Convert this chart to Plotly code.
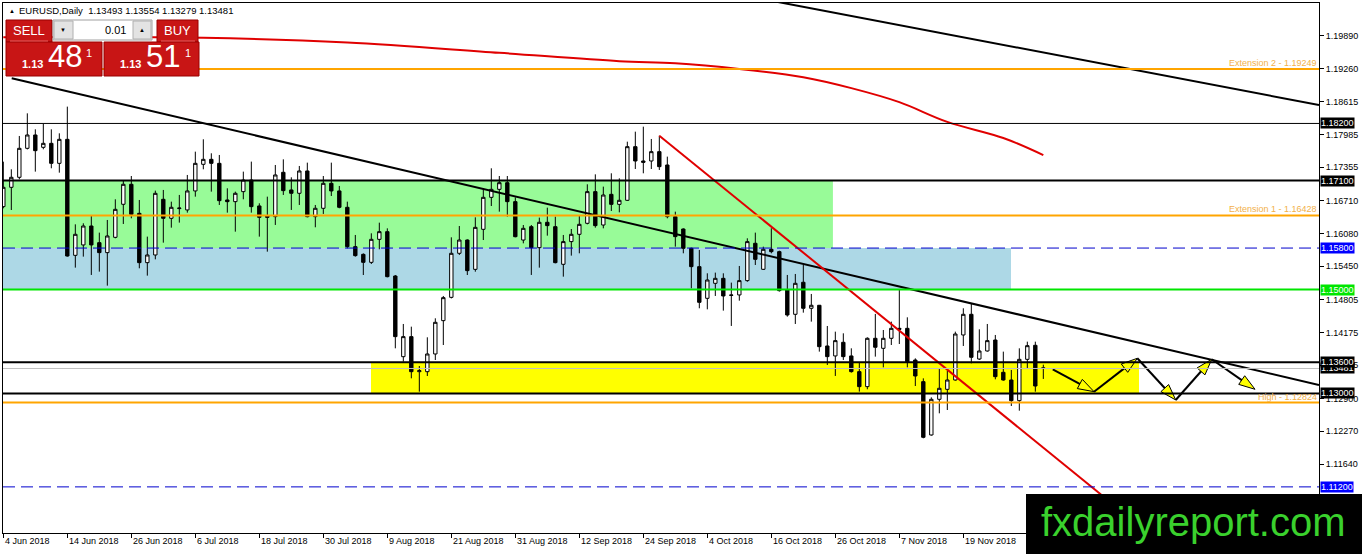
import plotly.graph_objects as go

    # EURUSD daily candles, 4 Jun 2018 .. 3 Dec 2018 (one entry per trading day)
opens = [1.16598, 1.16970, 1.17163, 1.17721, 1.17978, 1.17740, 1.17817, 1.17432, 1.17894, 1.15660,
         1.15860, 1.16225, 1.15904, 1.15712, 1.16007, 1.16643, 1.17028, 1.16469, 1.15519, 1.15667,
         1.16739, 1.16373, 1.16560, 1.16534, 1.16900, 1.17413, 1.17509, 1.17432, 1.16726, 1.16694,
         1.16887, 1.17111, 1.16611, 1.16418, 1.16405, 1.17259, 1.16919, 1.16855, 1.17285, 1.16405,
         1.16566, 1.17047, 1.16900, 1.16585, 1.15827, 1.15679, 1.15525, 1.15968, 1.16116, 1.15262,
         1.13708, 1.14094, 1.13419, 1.13419, 1.13760, 1.14402, 1.14851, 1.15699, 1.15955, 1.15390,
         1.16161, 1.16777, 1.16931, 1.17059, 1.16694, 1.15955, 1.16212, 1.15808, 1.16296, 1.16212,
         1.15487, 1.15924, 1.16065, 1.16277, 1.16887, 1.16244, 1.16835, 1.16642, 1.16720, 1.17753,
         1.17477, 1.17477, 1.17657, 1.17400, 1.16405, 1.16167, 1.15795, 1.15442, 1.14832, 1.15121,
         1.15217, 1.14897, 1.14897, 1.15173, 1.15892, 1.15391, 1.15776, 1.15731, 1.14993, 1.14524,
         1.15141, 1.14640, 1.14698, 1.13914, 1.13722, 1.13985, 1.13722, 1.13420, 1.13131, 1.14062,
         1.13869, 1.14062, 1.14254, 1.14254, 1.13644, 1.13227, 1.12200, 1.12887, 1.13079, 1.13259,
         1.14126, 1.14524, 1.13663, 1.13818, 1.14029, 1.13407, 1.13259, 1.12861, 1.13657, 1.13927,
         1.13493]
highs = [1.17464, 1.17317, 1.17959, 1.18395, 1.18087, 1.18190, 1.18087, 1.18010, 1.18524, 1.16257,
         1.16277, 1.16418, 1.16097, 1.16341, 1.16739, 1.17111, 1.17188, 1.16726, 1.16020, 1.16906,
         1.16919, 1.16694, 1.16823, 1.17208, 1.17657, 1.17895, 1.17625, 1.17593, 1.16951, 1.16887,
         1.17272, 1.17465, 1.16662, 1.16790, 1.17400, 1.17509, 1.17163, 1.17381, 1.17445, 1.16630,
         1.17188, 1.17445, 1.16996, 1.16694, 1.16052, 1.15698, 1.16084, 1.16289, 1.16180, 1.15281,
         1.14338, 1.14286, 1.13528, 1.14081, 1.14447, 1.14877, 1.16007, 1.16225, 1.15968, 1.16392,
         1.16950, 1.17336, 1.17188, 1.17188, 1.16777, 1.16244, 1.16244, 1.16386, 1.16578, 1.16405,
         1.16052, 1.16167, 1.16424, 1.17028, 1.17220, 1.16983, 1.17240, 1.17143, 1.17849, 1.18042,
         1.18138, 1.17901, 1.17965, 1.17561, 1.16501, 1.16180, 1.15808, 1.15763, 1.15314, 1.15327,
         1.15314, 1.15134, 1.15455, 1.15988, 1.16097, 1.15827, 1.16181, 1.15750, 1.15282, 1.15301,
         1.15474, 1.14916, 1.14704, 1.14299, 1.14190, 1.14158, 1.13869, 1.13593, 1.14081, 1.14531,
         1.14222, 1.14383, 1.15005, 1.14466, 1.13676, 1.13291, 1.12925, 1.13484, 1.13439, 1.14190,
         1.14640, 1.14723, 1.14235, 1.14338, 1.14126, 1.13805, 1.13452, 1.13869, 1.13997, 1.13997,
         1.13554]
lows = [1.16566, 1.16533, 1.17124, 1.17700, 1.17272, 1.17702, 1.17336, 1.17252, 1.15635, 1.15423,
        1.15635, 1.15282, 1.15346, 1.15076, 1.15988, 1.16264, 1.16373, 1.15410, 1.15269, 1.15583,
        1.15904, 1.16193, 1.16290, 1.16482, 1.16790, 1.17317, 1.16887, 1.16630, 1.16482, 1.16116,
        1.16739, 1.16482, 1.16020, 1.15731, 1.16245, 1.16823, 1.16534, 1.16630, 1.16392, 1.16200,
        1.16457, 1.16803, 1.16566, 1.15795, 1.15634, 1.15281, 1.15493, 1.15776, 1.15236, 1.13869,
        1.13612, 1.13291, 1.13034, 1.13336, 1.13644, 1.13933, 1.14830, 1.15667, 1.15281, 1.15345,
        1.15955, 1.16610, 1.16501, 1.16405, 1.16007, 1.15891, 1.15282, 1.15423, 1.16039, 1.15506,
        1.15249, 1.15654, 1.15699, 1.16257, 1.16193, 1.16180, 1.16514, 1.16488, 1.16707, 1.17323,
        1.17240, 1.17323, 1.17304, 1.16373, 1.15827, 1.15699, 1.15025, 1.14640, 1.14620, 1.14877,
        1.14595, 1.14300, 1.14787, 1.15150, 1.15474, 1.15378, 1.15699, 1.14961, 1.14479, 1.14338,
        1.14556, 1.14383, 1.13805, 1.13548, 1.13337, 1.13645, 1.13401, 1.13035, 1.13080, 1.13709,
        1.13503, 1.13933, 1.13952, 1.13503, 1.13143, 1.12136, 1.12187, 1.12617, 1.12681, 1.13246,
        1.13914, 1.13580, 1.13644, 1.13805, 1.13272, 1.13246, 1.12758, 1.12668, 1.13484, 1.13034,
        1.13279]
closes = [1.16970, 1.17163, 1.17721, 1.17978, 1.17676, 1.17817, 1.17432, 1.17894, 1.15647, 1.16065,
          1.16225, 1.15860, 1.15712, 1.16033, 1.16546, 1.17028, 1.16450, 1.15519, 1.15667, 1.16854,
          1.16373, 1.16585, 1.16570, 1.16900, 1.17432, 1.17509, 1.17432, 1.16713, 1.16694, 1.16855,
          1.17111, 1.16598, 1.16392, 1.16392, 1.17208, 1.16906, 1.16855, 1.17285, 1.16405, 1.16566,
          1.17047, 1.16900, 1.16585, 1.15827, 1.15654, 1.15525, 1.15968, 1.16116, 1.15249, 1.14094,
          1.14094, 1.13419, 1.13438, 1.13760, 1.14370, 1.14845, 1.15699, 1.15955, 1.15365, 1.16199,
          1.16777, 1.16931, 1.17059, 1.16694, 1.16019, 1.16180, 1.15808, 1.16296, 1.16232, 1.15519,
          1.15924, 1.16065, 1.16257, 1.16887, 1.16232, 1.16822, 1.16642, 1.16720, 1.17753, 1.17477,
          1.17451, 1.17657, 1.17368, 1.16405, 1.16020, 1.15795, 1.15442, 1.14755, 1.15185, 1.15217,
          1.14877, 1.14890, 1.15173, 1.15924, 1.15583, 1.15776, 1.15731, 1.14980, 1.14511, 1.15121,
          1.14640, 1.14698, 1.13901, 1.13709, 1.14017, 1.13709, 1.13420, 1.13131, 1.14062, 1.13889,
          1.14062, 1.14254, 1.14235, 1.13612, 1.13336, 1.12155, 1.12887, 1.13099, 1.13259, 1.14145,
          1.14524, 1.13696, 1.13818, 1.14017, 1.13323, 1.13259, 1.12861, 1.13657, 1.13920, 1.13143,
          1.13481]

    # bottom axis labels (every 8th bar)
x_labels = ["4 Jun 2018", "14 Jun 2018", "26 Jun 2018", "6 Jul 2018", "18 Jul 2018", "30 Jul 2018",
            "9 Aug 2018", "21 Aug 2018", "31 Aug 2018", "12 Sep 2018", "24 Sep 2018", "4 Oct 2018",
            "16 Oct 2018", "26 Oct 2018", "7 Nov 2018", "19 Nov 2018"]
x_label_bars = [0, 8, 16, 24, 32, 40, 48, 56, 64, 72, 80, 88, 96, 104, 112, 120]

    # right price scale
y_ticks = [1.19890, 1.19260, 1.18615, 1.17985, 1.17355, 1.16710, 1.16080, 1.15450,
           1.14805, 1.14175, 1.13545, 1.12900, 1.12270, 1.11640, 1.11010]

    # levels and zones
black_levels = [1.18200, 1.17100, 1.13600, 1.13000]
black_widths = [1, 2, 2, 2]
blue_levels = [1.15800, 1.11200]
green_level = 1.15000
bid_price = 1.13481
fib_levels = [1.19249, 1.16428, 1.12824]
fib_names = ["Extension 2", "Extension 1", "High"]

green_zone = [1.15800, 1.17100]
blue_zone = [1.15000, 1.15800]
yellow_zone = [1.13000, 1.13600]
green_zone_bars = [-1, 103.7]
blue_zone_bars = [-1, 125.96]
yellow_zone_bars = [45.96, 141.96]

    # moving average (red)
ma_bars = [0, 25, 43, 62, 77, 84, 92, 100, 106, 112, 118, 125, 130]
ma_vals = [1.1986, 1.1985, 1.1976, 1.1956, 1.1940, 1.1936, 1.1925, 1.1909, 1.1888, 1.1861, 1.1823, 1.1792, 1.1759]

    # trendlines
trend1_bars = [1.05, 164.46]
trend1_vals = [1.19070, 1.13163]
trend2_bars = [96.84, 164.46]
trend2_vals = [1.20539, 1.18556]
red_trend_bars = [82, 143]
red_trend_vals = [1.17965, 1.10328]

    # projected path
path_bars = [131.18, 136.34, 141.75, 146.55, 151.05, 156.46]
path_vals = [1.13465, 1.13034, 1.13677, 1.12874, 1.13658, 1.13080]

    # price boxes on the right scale
tag_vals = [1.18200, 1.17100, 1.15800, 1.15000, 1.13481, 1.13600, 1.13000, 1.11200]
tag_colors = ["black", "black", "#0000FF", "#00E600", "black", "black", "black", "#0000FF"]

W, H = 1362, 554
L, R, T, B = 3, 43, 3, 21
PW, PH = W - L - R, H - T - B
FONT = "Liberation Sans"


def px(x):
    return (x - L) / PW


def py(y):
    return (H - B - y) / PH


fig = go.Figure()

fig.add_trace(go.Candlestick(
    x=list(range(len(opens))), open=opens, high=highs, low=lows, close=closes,
    increasing=dict(line=dict(color="black", width=1), fillcolor="white"),
    decreasing=dict(line=dict(color="black", width=1), fillcolor="black"),
    whiskerwidth=0, hoverinfo="skip", showlegend=False))

fig.add_trace(go.Scatter(x=ma_bars, y=ma_vals, mode="lines", line=dict(color="#E00000", width=2),
                         line_shape="spline", hoverinfo="skip", showlegend=False))
fig.add_trace(go.Scatter(x=trend1_bars, y=trend1_vals, mode="lines", line=dict(color="black", width=2),
                         hoverinfo="skip", showlegend=False))
fig.add_trace(go.Scatter(x=trend2_bars, y=trend2_vals, mode="lines", line=dict(color="black", width=2),
                         hoverinfo="skip", showlegend=False))
fig.add_trace(go.Scatter(x=red_trend_bars, y=red_trend_vals, mode="lines", line=dict(color="#E00000", width=2),
                         hoverinfo="skip", showlegend=False))
fig.add_trace(go.Scatter(x=path_bars, y=path_vals, mode="lines+markers",
                         line=dict(color="black", width=2),
                         marker=dict(symbol="arrow", angleref="previous", size=17, color="#FFFF00",
                                     line=dict(color="black", width=1)),
                         hoverinfo="skip", showlegend=False))

    # zones (behind candles)
for zone, bars, col in [(green_zone, green_zone_bars, "#98FB98"),
                        (blue_zone, blue_zone_bars, "#ADD8E6"),
                        (yellow_zone, yellow_zone_bars, "#FFFF00")]:
    fig.add_shape(type="rect", xref="x", yref="y", x0=bars[0], x1=bars[1], y0=zone[0], y1=zone[1],
                  fillcolor=col, line_width=0, layer="below")

    # horizontal levels
fig.add_hline(y=bid_price, line=dict(color="#C0C0C0", width=1))
for v, w in zip(black_levels, black_widths):
    fig.add_hline(y=v, line=dict(color="black", width=w))
for v in blue_levels:
    fig.add_hline(y=v, line=dict(color="#0000CD", width=1, dash="12px,6px"))
fig.add_hline(y=green_level, line=dict(color="#00E600", width=2))
for v, name in zip(fib_levels, fib_names):
    fig.add_hline(y=v, line=dict(color="#FFA500", width=2))
    fig.add_annotation(x=1, xref="paper", y=v, yref="y", xanchor="right", yanchor="bottom",
                       text=f"{name} - {v:.5f}", showarrow=False, yshift=-1,
                       font=dict(family=FONT, size=9, color="#F2B04A"))

    # price tags on the scale
for v, c in zip(tag_vals, tag_colors):
    fig.add_annotation(x=1, xref="paper", y=v, yref="y", xanchor="left", xshift=1,
                       text=f"{v:.5f}", showarrow=False, bgcolor=c, borderpad=0,
                       font=dict(family=FONT, size=9, color="white"))

    # date labels
for b, lab in zip(x_label_bars, x_labels):
    fig.add_annotation(x=b, xref="x", y=0, yref="paper", xanchor="left", yanchor="top",
                       yshift=-1, text=lab, showarrow=False,
                       font=dict(family=FONT, size=9, color="black"))

    # header
fig.add_annotation(x=px(7), y=py(10.5), xref="paper", yref="paper", xanchor="left", yanchor="middle",
                   text="▲", showarrow=False, font=dict(family=FONT, size=6, color="black"))
fig.add_annotation(x=px(17), y=py(10.5), xref="paper", yref="paper", xanchor="left", yanchor="middle",
                   text="EURUSD,Daily  1.13493 1.13554 1.13279 1.13481", showarrow=False,
                   font=dict(family=FONT, size=9.5, color="black"))

    # one click trading panel
RED = "#C81515"
panel = [(6, 20, 52, 42, RED, "#9A0000"), (157, 20, 198, 42, RED, "#9A0000"),
         (53, 20, 152, 40, "white", "#A0A0A0"), (54, 21, 73, 39, "#E3E3E3", "#B0B0B0"),
         (133, 21, 151, 39, "#E3E3E3", "#B0B0B0"),
         (6, 42, 102, 76, RED, "#9A0000"), (104, 42, 199, 76, RED, "#9A0000")]
for x0, y0, x1, y1, fc, lc in panel:
    fig.add_shape(type="rect", xref="paper", yref="paper", x0=px(x0), x1=px(x1), y0=py(y1), y1=py(y0),
                  fillcolor=fc, line=dict(color=lc, width=1), layer="above")
for x0, x1 in [(10, 48), (161, 195)]:
    fig.add_shape(type="line", xref="paper", yref="paper", x0=px(x0), x1=px(x1), y0=py(41), y1=py(41),
                  line=dict(color="#E86060", width=1), layer="above")

panel_text = [(29, 31, "SELL", 13, "white", "center"), (177, 31, "BUY", 13, "white", "center"),
              (63, 30, "▼", 6, "black", "center"), (142, 30, "▲", 6, "black", "center"),
              (128, 30, "0.01", 11, "black", "right"),
              (32.5, 64, "<b>1.13</b>", 11, "white", "center"), (65, 57, "48", 31, "white", "center"),
              (88.5, 53, "1", 11, "white", "center"),
              (130.5, 64, "<b>1.13</b>", 11, "white", "center"), (163, 57, "51", 31, "white", "center"),
              (187.5, 53, "1", 11, "white", "center")]
for x, y, t, s, c, a in panel_text:
    fig.add_annotation(x=px(x), y=py(y), xref="paper", yref="paper", xanchor=a, yanchor="middle",
                       text=t, showarrow=False, font=dict(family=FONT, size=s, color=c))

    # watermark
fig.add_shape(type="rect", xref="paper", yref="paper", x0=px(1026), x1=px(1362), y0=py(554), y1=py(494),
              fillcolor="black", line_width=0, layer="above")
fig.add_annotation(x=px(1193), y=py(522), xref="paper", yref="paper", xanchor="center", yanchor="middle",
                   text="fxdailyreport.com", showarrow=False,
                   font=dict(family=FONT, size=40, color="#3AD12D"))

fig.update_layout(
    template="none",
    width=W, height=H,
    margin=dict(l=L, r=R, t=T, b=B),
    paper_bgcolor="white", plot_bgcolor="white",
    showlegend=False,
    boxgap=0.4,
    font=dict(family=FONT, size=9, color="black"),
    xaxis=dict(range=[-0.04, 164.46], rangeslider=dict(visible=False), showgrid=False, zeroline=False,
               tickvals=x_label_bars, showticklabels=False, ticks="outside", ticklen=4,
               tickcolor="black", showline=True, linecolor="black", linewidth=1, mirror=True,
               automargin=False),
    yaxis=dict(range=[1.10312, 1.20520], side="right", showgrid=False, zeroline=False,
               tickvals=y_ticks, ticktext=[f"{v:.5f}" for v in y_ticks], ticks="outside", ticklen=4,
               tickcolor="black", showline=True, linecolor="black", linewidth=1, mirror=True,
               tickfont=dict(family=FONT, size=9, color="black"), automargin=False),
)

    # page body has a default margin; drop it so the chart sits at the window corner
fig.write_html("out.html", config={"displayModeBar": False},
               post_script="document.body.style.margin='0';")
